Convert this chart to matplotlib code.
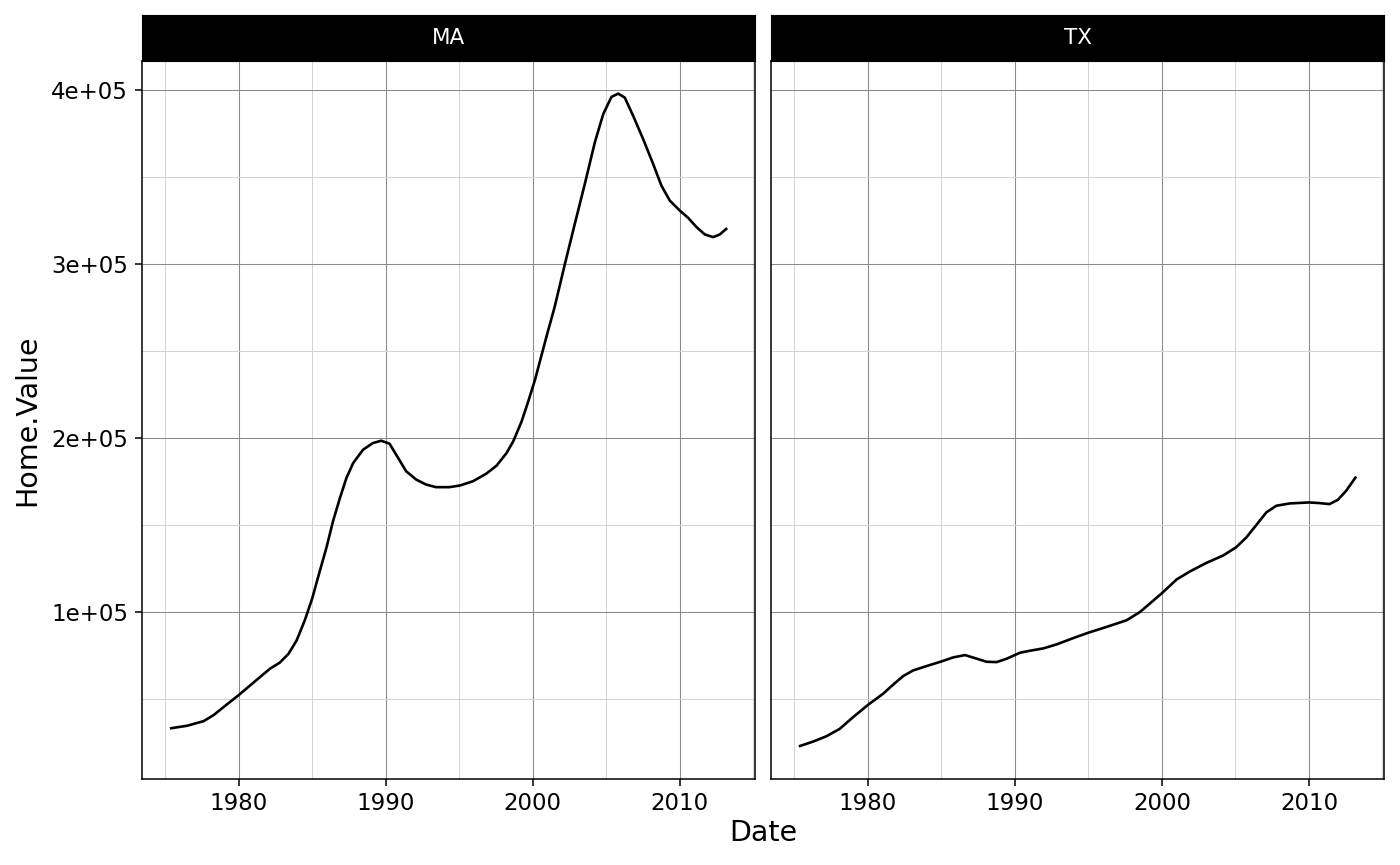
import numpy as np
import matplotlib
matplotlib.use("Agg")
import matplotlib.pyplot as plt
from matplotlib.ticker import FixedLocator, FuncFormatter

# smoothed home values, per state
ma_year = [1975.33, 1976.5, 1977.63, 1978.3, 1979.2, 1980.0, 1980.8, 1981.47, 1982.14,
           1982.8, 1983.4, 1983.95, 1984.5, 1985.0, 1985.5, 1985.98, 1986.43, 1986.9,
           1987.34, 1987.8, 1988.47, 1989.14, 1989.7, 1990.27, 1990.72, 1991.4,
           1992.08, 1992.75, 1993.43, 1994.33, 1995.05, 1995.95, 1996.86, 1997.55,
           1998.23, 1998.68, 1999.25, 1999.7, 2000.16, 2000.94, 2001.5, 2002.19,
           2002.87, 2003.55, 2004.23, 2004.8, 2005.36, 2005.82, 2006.27, 2006.84,
           2007.52, 2008.2, 2008.76, 2009.33, 2010.01, 2010.58, 2011.15, 2011.71,
           2012.28, 2012.73, 2013.23]
ma_value = [33020, 34540, 37210, 40650, 46760, 52100, 57820, 62600, 67370,
            70800, 75950, 83590, 95040, 107440, 122710, 137020, 152290, 165650,
            177100, 185690, 193320, 197140, 198470, 196760, 190460, 180920,
            176140, 173280, 171760, 171760, 172710, 175190, 179580, 184160,
            191410, 198090, 209540, 220990, 233400, 258260, 275450, 299900,
            323210, 346130, 370010, 386250, 396180, 398090, 395800, 385290,
            371920, 357590, 345180, 336580, 330850, 326650, 321300, 317100,
            315570, 317100, 320730]

tx_year = [1975.3, 1976.25, 1977.16, 1978.07, 1978.98, 1980.0, 1981.02, 1981.7, 1982.39,
           1983.07, 1983.98, 1985.0, 1985.8, 1986.6, 1987.27, 1988.07, 1988.75, 1989.43,
           1990.34, 1991.02, 1991.93, 1992.84, 1993.98, 1995.0, 1996.24, 1997.6,
           1998.51, 1999.3, 2000.0, 2001.0, 2001.9, 2003.03, 2004.16, 2005.05,
           2005.75, 2006.42, 2007.1, 2007.78, 2008.69, 2010.0, 2010.72, 2011.4,
           2011.97, 2012.53, 2013.21]
tx_value = [22690, 25380, 28460, 32690, 39420, 46540, 52880, 58080, 63080,
            66350, 68850, 71540, 73850, 75190, 73460, 71350, 71150, 73080,
            76540, 77690, 79040, 81350, 85000, 88080, 91410, 95230,
            100000, 105730, 110800, 118700, 123280, 128240, 132440, 137210,
            142940, 150000, 157250, 161070, 162400, 162980, 162600, 162020,
            164500, 169660, 177860]

states = ["MA", "TX"]
x_major = [1980, 1990, 2000, 2010]
x_minor = [1975, 1985, 1995, 2005, 2015]
y_major = [100000, 200000, 300000, 400000]
y_minor = [50000, 150000, 250000, 350000]

W, H = 1400, 865
fig = plt.figure(figsize=(14, 8.65), dpi=100)

panels = [(142, ma_year, ma_value), (771, tx_year, tx_value)]
axes = []
for i, (left, xs, ys) in enumerate(panels):
    ax = fig.add_axes([left / W, 1 - 779 / H, 613 / W, 718 / H])
    ax.plot(xs, ys, color="black", lw=1.9, solid_capstyle="butt",
            solid_joinstyle="round", zorder=3)
    ax.margins(x=0.05, y=0.05)
    axes.append(ax)

    strip = fig.add_axes([left / W, 1 - 61 / H, 613 / W, 46 / H])
    strip.set_facecolor("black")
    strip.set_xticks([])
    strip.set_yticks([])
    for s in strip.spines.values():
        s.set_color("black")
    strip.text(0.5, 0.5, states[i], color="white", fontsize=15.5,
               ha="center", va="center", transform=strip.transAxes)

ylo = min(min(ma_value), min(tx_value))
yhi = max(max(ma_value), max(tx_value))
pad = (yhi - ylo) * 0.05
for i, ax in enumerate(axes):
    ax.set_ylim(ylo - pad, yhi + pad)
    ax.xaxis.set_major_locator(FixedLocator(x_major))
    ax.xaxis.set_minor_locator(FixedLocator(x_minor))
    ax.yaxis.set_major_locator(FixedLocator(y_major))
    ax.yaxis.set_minor_locator(FixedLocator(y_minor))
    ax.yaxis.set_major_formatter(FuncFormatter(lambda v, p: "%de+05" % round(v / 1e5)))
    ax.grid(which="major", color="#8a8a8a", lw=0.75, zorder=0)
    ax.grid(which="minor", color="#d4d4d4", lw=0.75, zorder=0)
    ax.set_axisbelow(True)
    for s in ax.spines.values():
        s.set_color("black")
        s.set_linewidth(1.1)
    ax.tick_params(which="major", length=5, width=1.1, color="black",
                   labelsize=16.5, labelcolor="black")
    ax.tick_params(axis="x", pad=4)
    ax.tick_params(axis="y", pad=5)
    ax.tick_params(which="minor", length=0)
    if i == 1:
        ax.tick_params(axis="y", left=False, labelleft=False)

fig.text(763 / W, 1 - 833 / H, "Date", fontsize=20.5, ha="center", va="center")
fig.text(27 / W, 1 - 420 / H, "Home.Value", fontsize=20.5, ha="center",
         va="center", rotation=90)

fig.savefig("out.png", dpi=100)
